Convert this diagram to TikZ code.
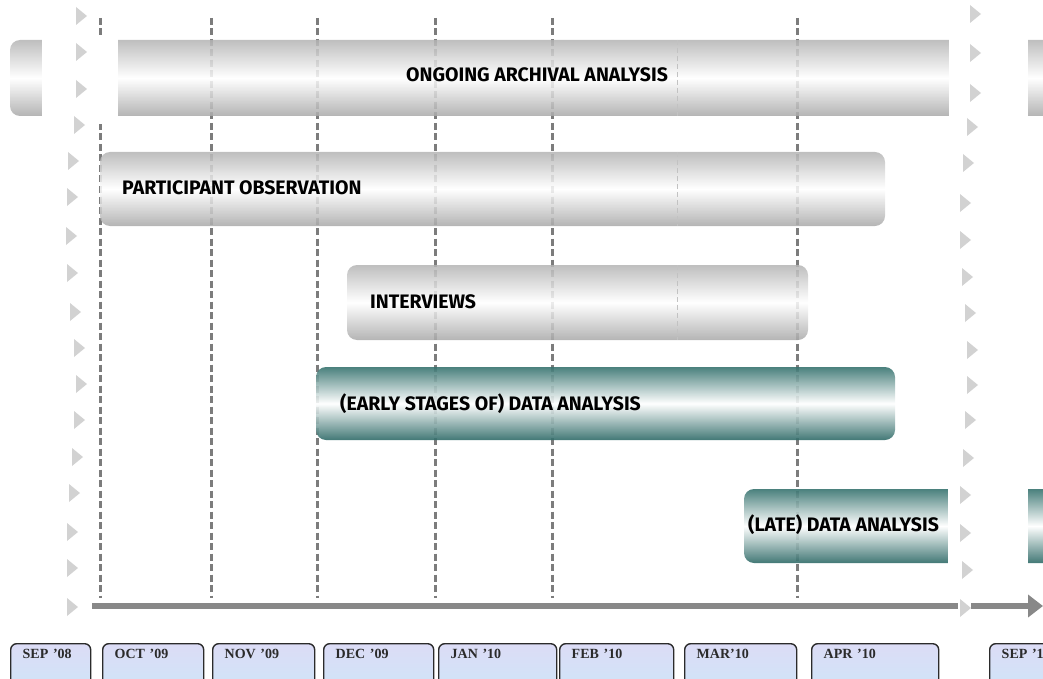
\documentclass[tikz,border=0pt]{standalone}
\usepackage{fontspec}
\newfontfamily\barfont{Fira Sans}
\newfontfamily\boxfont{Liberation Serif}
\usetikzlibrary{arrows.meta}
\definecolor{barA}{HTML}{B4B4B4}
\definecolor{barB}{HTML}{A8A8A8}
\definecolor{tealA}{HTML}{37736F}
\definecolor{tealB}{HTML}{2E6A67}
\definecolor{dashc}{HTML}{7C7C7C}
\definecolor{trig}{HTML}{D2D2D2}
\definecolor{axisc}{HTML}{888888}
\definecolor{mtop}{HTML}{DCDCF6}
\definecolor{mbot}{HTML}{CDE6F8}
\definecolor{mline}{HTML}{2B2B2B}
\begin{document}
\begin{tikzpicture}[x=1pt,y=-1pt,
 graybar/.style={top color=barA, bottom color=barB, middle color=white, fill opacity=0.86, rounded corners=10pt},
 tealbar/.style={top color=tealA, bottom color=tealB, middle color=white, fill opacity=0.9, rounded corners=10pt},
 bartext/.style={font=\barfont\bfseries\fontsize{19.5}{22}\selectfont, text=black, inner sep=0pt},
 vdash/.style={draw=dashc, line width=3pt, dash pattern=on 7pt off 3.5pt},
 faint/.style={draw=barB!70, line width=0.8pt, dash pattern=on 5pt off 3pt},
 gap/.style={fill=white, draw=none},
 tri/.style={fill=trig, draw=none},
 axis/.style={draw=axisc, line width=6pt},
 monthbox/.style={draw=mline, line width=1.4pt, rounded corners=6pt, top color=mtop, bottom color=mbot, anchor=north west, inner xsep=12pt, inner ysep=3pt, text height=12pt, text depth=35pt, align=left, font=\boxfont\bfseries\fontsize{14}{16}\selectfont, text=mline}
]
\useasboundingbox (0,0) rectangle (1043,679);
\clip (0,0) rectangle (1043,679);
% vertical dashed month lines
\foreach \xx in {100,211,317,435,552,797}
  \draw[vdash] (\xx,18) -- (\xx,598);
% bars
\shade[graybar] (10,40) rectangle (1070,116);
\shade[graybar] (100,152) rectangle (885,226);
\shade[graybar] (347,265) rectangle (808,340);
\shade[tealbar] (316,367) rectangle (895,440);
\shade[tealbar] (744,489) rectangle (1070,563);
% faint line inside grey bars
\draw[faint] (677,40) -- (677,116);
\draw[faint] (677,152) -- (677,226);
\draw[faint] (677,265) -- (677,340);
% breaks
\fill[gap] (42,36) rectangle (118,124);
\fill[gap] (949,36) rectangle (1028,124);
\fill[gap] (948,485) rectangle (1028,567);
% timeline
\coordinate (ta) at (92,606);
\coordinate (tb) at (958,606);
\coordinate (tc) at (971,606);
\coordinate (td) at (1043,606);
\draw[axis] (ta) -- (tb);
\draw[axis, -{Triangle[length=15pt,width=22pt]}] (tc) -- (td);
% break markers
\foreach \xx/\yy in {81/16, 81/52, 81/89, 79/125, 73/161, 72/197, 71/236, 72/273, 75/312, 79/348, 81/384, 79/420, 77/457, 74/493, 72/532, 72/568, 72/607,
  975/14, 975/53, 975/93, 972/127, 968/163, 965/203, 965/240, 967/277, 970/313, 972/350, 972/385, 970/420, 968/458, 965/495, 965/533, 967/570, 965/608}
  \fill[tri] (\xx-5,\yy-9) -- (\xx+6,\yy) -- (\xx-5,\yy+9) -- cycle;
% bar labels
\node[bartext] (lab1) at (537,75) {ONGOING ARCHIVAL ANALYSIS};
\node[bartext, anchor=west] (lab2) at (122,188) {PARTICIPANT OBSERVATION};
\node[bartext, anchor=west] (lab3) at (370,302) {INTERVIEWS};
\node[bartext, anchor=west] (lab4) at (340,404) {(EARLY STAGES OF) DATA ANALYSIS};
\node[bartext, anchor=west] (lab5) at (748,525) {(LATE) DATA ANALYSIS};
% month boxes
\node[monthbox, text width=56pt] (m0) at (10,643) {SEP ’08};
\node[monthbox, text width=77pt] (m1) at (102,643) {OCT ’09};
\node[monthbox, text width=78pt] (m2) at (212,643) {NOV ’09};
\node[monthbox, text width=86pt] (m3) at (323,643) {DEC ’09};
\node[monthbox, text width=94pt] (m4) at (438,643) {JAN ’10};
\node[monthbox, text width=90pt] (m5) at (559,643) {FEB ’10};
\node[monthbox, text width=88pt] (m6) at (684,643) {MAR’10};
\node[monthbox, text width=103pt] (m7) at (811,643) {APR ’10};
\node[monthbox, text width=80pt] (m8) at (989,643) {SEP ’10};
\end{tikzpicture}
\end{document}
